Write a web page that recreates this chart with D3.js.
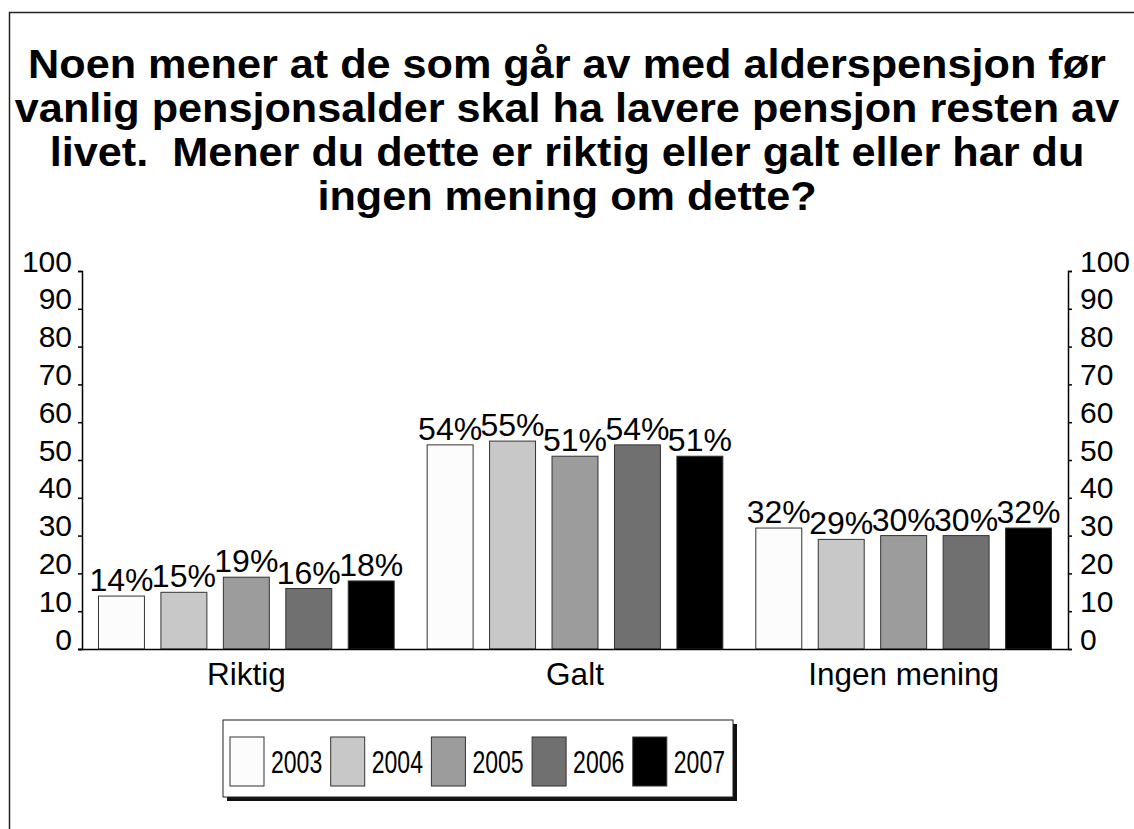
<!DOCTYPE html>
<html>
<head>
<meta charset="utf-8">
<script src="https://cdn.jsdelivr.net/npm/d3@7"></script>
<style>
  body { margin: 0; background: white; }
  text { font-family: Arial, "Liberation Sans", sans-serif; fill: #000; }
</style>
</head>
<body>
<svg width="1134" height="829"></svg>
<script>
const categories = ['Riktig', 'Galt', 'Ingen mening']
const years = ['2003', '2004', '2005', '2006', '2007']
const values = {
    '2003': [14, 54, 32],
    '2004': [15, 55, 29],
    '2005': [19, 51, 30],
    '2006': [16, 54, 30],
    '2007': [18, 51, 32]
}
const yTicks = [0, 10, 20, 30, 40, 50, 60, 70, 80, 90, 100]
const colors = ['#fcfcfc', '#c8c8c8', '#9c9c9c', '#707070', '#000000']
const titleLines = [
    'Noen mener at de som går av med alderspensjon før',
    'vanlig pensjonsalder skal ha lavere pensjon resten av',
    'livet.  Mener du dette er riktig eller galt eller har du',
    'ingen mening om dette?'
]

const svg = d3.select('svg')
const width = +svg.attr('width')
const height = +svg.attr('height')

// outer frame (runs off the right and bottom edge)
svg.append('path')
    .attr('d', `M${width},12.5H9.5V${height}`)
    .attr('fill', 'none').attr('stroke', '#222').attr('stroke-width', 1.5)

svg.append('g').selectAll('text')
    .data(titleLines)
    .enter()
    .append('text')
    .attr('transform', (d, i) => `translate(567,${78 + i * 44}) scale(1.08,1)`)
    .attr('text-anchor', 'middle')
    .attr('font-size', 40)
    .attr('font-weight', 'bold')
    .style('white-space', 'pre')
    .text(d => d)

const margin = {top: 271, left: 82, right: 66, bottom: 180}
const innerWidth = width - margin.left - margin.right
const innerHeight = height - margin.top - margin.bottom

const g = svg.append('g')
    .attr('transform', `translate(${margin.left},${margin.top})`)

const x0 = d3.scaleBand().domain(categories).range([0, innerWidth])
const x1 = d3.scaleBand().domain(years).range([0, x0.bandwidth()]).padding(0.264)
const y = d3.scaleLinear().domain([0, 100]).range([innerHeight, 0])
const color = d3.scaleOrdinal().domain(years).range(colors)

const rows = categories.map((c, i) => ({cat: c, items: years.map(yr => ({year: yr, value: values[yr][i]}))}))

const groups = g.selectAll('.grp')
    .data(rows)
    .enter()
    .append('g')
    .attr('transform', d => `translate(${x0(d.cat)},0)`)

groups.selectAll('rect')
    .data(d => d.items)
    .enter()
    .append('rect')
    .attr('x', d => x1(d.year))
    .attr('y', d => y(d.value))
    .attr('width', x1.bandwidth())
    .attr('height', d => innerHeight - y(d.value))
    .attr('fill', d => color(d.year))
    .attr('stroke', '#333')
    .attr('stroke-width', 1)

groups.selectAll('.lbl')
    .data(d => d.items)
    .enter()
    .append('text')
    .attr('x', d => x1(d.year) + x1.bandwidth() / 2)
    .attr('y', d => y(d.value) - 5)
    .attr('text-anchor', 'middle')
    .attr('font-size', 32)
    .text(d => d.value + '%')

const yLeft = g.append('g')
    .call(d3.axisLeft(y).tickValues(yTicks).tickSize(4).tickPadding(6))
const yRight = g.append('g')
    .attr('transform', `translate(${innerWidth},0)`)
    .call(d3.axisRight(y).tickValues(yTicks).tickSize(4).tickPadding(8))
;[yLeft, yRight].forEach(ax => {
    ax.select('.domain').attr('stroke', '#000').attr('stroke-width', 1.5)
    ax.selectAll('.tick line').attr('stroke', '#000').attr('stroke-width', 1.5)
    ax.selectAll('.tick text')
        .attr('font-size', 30)
        .attr('font-family', 'Arial, "Liberation Sans", sans-serif')
        .attr('fill', '#000')
        .attr('dy', 0)
})

const xAxis = g.append('g')
    .attr('transform', `translate(0,${innerHeight})`)
    .call(d3.axisBottom(x0).tickSize(0).tickPadding(14))
xAxis.select('.domain').attr('stroke', '#000').attr('stroke-width', 1.5)
    .attr('d', `M-4,0.5H${innerWidth}`)
xAxis.selectAll('.tick text')
    .attr('font-size', 31.5)
    .attr('font-family', 'Arial, "Liberation Sans", sans-serif')
    .attr('fill', '#000')
    .attr('dy', '0.71em')

// legend
const legend = svg.append('g').attr('transform', 'translate(223,720)')
legend.append('rect')
    .attr('x', 4).attr('y', 4).attr('width', 510).attr('height', 77)
    .attr('fill', '#111')
legend.append('rect')
    .attr('x', 0).attr('y', 0).attr('width', 510).attr('height', 77)
    .attr('fill', 'white').attr('stroke', '#222').attr('stroke-width', 1)
const item = legend.selectAll('.item')
    .data(years)
    .enter()
    .append('g')
    .attr('transform', (d, i) => `translate(${7 + i * 100.7},17)`)
item.append('rect')
    .attr('width', 34).attr('height', 49)
    .attr('fill', d => color(d))
    .attr('stroke', '#333').attr('stroke-width', 1)
item.append('text')
    .attr('transform', 'translate(41,36) scale(0.72,1)')
    .attr('font-size', 32)
    .text(d => d)
</script>
</body>
</html>
